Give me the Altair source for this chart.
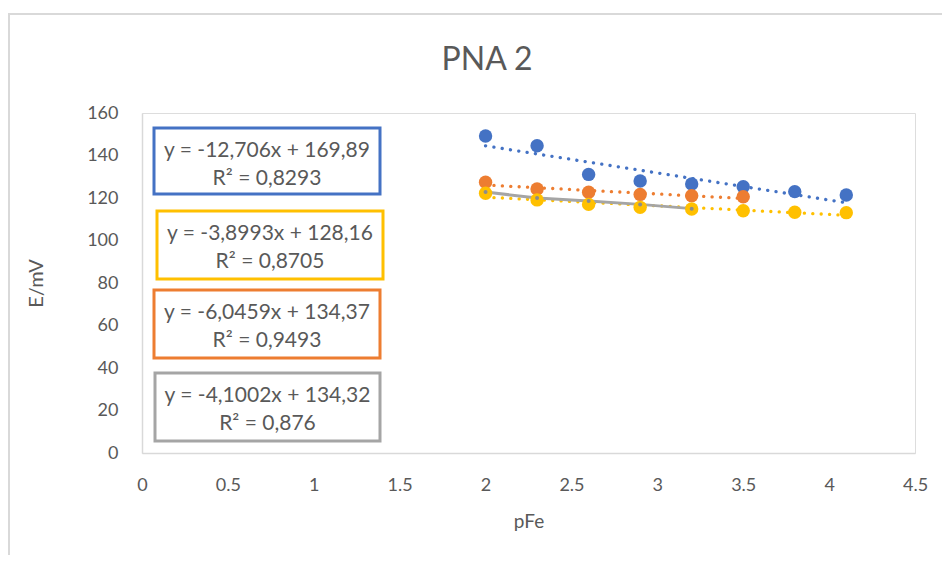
import altair as alt
import pandas as pd

# ---- data ----
x_blue = [2.0, 2.3, 2.6, 2.9, 3.2, 3.5, 3.8, 4.1]
y_blue = [149.2, 144.6, 131.1, 128.0, 126.6, 125.3, 123.0, 121.4]
x_orange = [2.0, 2.3, 2.6, 2.9, 3.2, 3.5]
y_orange = [127.4, 124.2, 122.7, 121.7, 121.1, 120.6]
x_gray = [2.0, 2.3, 2.6, 2.9, 3.2]
y_gray = [122.8, 120.0, 118.6, 117.0, 115.0]
x_yellow = [2.0, 2.3, 2.6, 2.9, 3.2, 3.5, 3.8, 4.1]
y_yellow = [122.2, 119.1, 117.0, 115.6, 114.8, 114.0, 113.3, 113.1]

series_names = ["Serie1", "Serie2", "Serie3", "Serie4"]
series_colors = ["#4472C4", "#ED7D31", "#A5A5A5", "#FFC000"]

box_line1 = ["y = -12,706x + 169,89", "y = -3,8993x + 128,16",
             "y = -6,0459x + 134,37", "y = -4,1002x + 134,32"]
box_line2 = ["R² = 0,8293", "R² = 0,8705", "R² = 0,9493", "R² = 0,876"]
box_colors = ["#4472C4", "#FFC000", "#ED7D31", "#A5A5A5"]

chart_title = "PNA 2"
x_ticks = [0, 0.5, 1, 1.5, 2, 2.5, 3, 3.5, 4, 4.5]
y_ticks = [0, 20, 40, 60, 80, 100, 120, 140, 160]

# ---- layout (pixels, relative to plot origin) ----
box_px = [(12, 238, 15, 81), (15, 241, 98, 166), (12, 238, 177, 245), (13, 238, 260, 328)]
title_px = (345, -43)

rows = []
for name, xs, ys in zip(series_names, [x_blue, x_orange, x_gray, x_yellow],
                        [y_blue, y_orange, y_gray, y_yellow]):
    for xv, yv in zip(xs, ys):
        rows.append({"series": name, "x": xv, "y": yv})
df = pd.DataFrame(rows)

TXT = "#595959"
FONT = "Lato"

xenc = alt.X("x:Q", scale=alt.Scale(domain=[0, 4.5], nice=False, zero=False),
             axis=alt.Axis(values=x_ticks, format=".1~f", title="pFe", grid=False, ticks=False,
                           tickSize=0, domainColor="#D9D9D9", domainWidth=1.5,
                           labelFont=FONT, labelFontSize=18, labelColor=TXT, labelPadding=23,
                           labelFlush=False, labelOverlap=False,
                           titleFont=FONT, titleFontSize=19, titleFontWeight="normal",
                           titleColor=TXT, titlePadding=18))
yenc = alt.Y("y:Q", scale=alt.Scale(domain=[0, 160], nice=False),
             axis=alt.Axis(values=y_ticks, title="E/mV", grid=False, ticks=False,
                           tickSize=0, domainColor="#D9D9D9", domainWidth=1.5,
                           labelFont=FONT, labelFontSize=18, labelColor=TXT, labelPadding=24,
                           labelFlush=False, labelOverlap=False,
                           titleFont=FONT, titleFontSize=20, titleFontWeight="normal",
                           titleColor=TXT, titlePadding=40))
cenc = alt.Color("series:N", scale=alt.Scale(domain=series_names, range=series_colors), legend=None)

one = pd.DataFrame({"k": [0]})

frame_left = alt.Chart(one).mark_rule(color="#D9D9D9", strokeWidth=2).encode(
    x=alt.value(-133), y=alt.value(-100), y2=alt.value(800))
frame_top = alt.Chart(one).mark_rule(color="#D9D9D9", strokeWidth=2).encode(
    x=alt.value(-134), x2=alt.value(1200), y=alt.value(-99))

title = alt.Chart(one).mark_text(text=chart_title, font=FONT, fontSize=32, color=TXT,
                                 align="center", baseline="alphabetic").encode(
    x=alt.value(title_px[0]), y=alt.value(title_px[1]))

base = alt.Chart(df)

trend = base.transform_filter(
    alt.FieldOneOfPredicate(field="series", oneOf=["Serie1", "Serie2", "Serie4"])
).transform_regression("x", "y", groupby=["series"]).mark_line(
    strokeDash=[0.1, 8.3], strokeCap="round", strokeWidth=3.3
).encode(x=xenc, y=yenc, color=cenc)

gray_line = base.transform_filter(alt.datum.series == "Serie3").mark_line(
    strokeWidth=3, color="#A5A5A5").encode(x=xenc, y=yenc)

def pts(name):
    return base.transform_filter(alt.datum.series == name).mark_circle(
        size=180, opacity=1).encode(x=xenc, y=yenc, color=cenc)

gray_pts = base.transform_filter(alt.datum.series == "Serie3").mark_circle(
    size=16, opacity=1, color="#8C8C8C").encode(x=xenc, y=yenc)

layers = [frame_left, frame_top, title]
for (bx, bx2, by, by2), l1, l2, col in zip(box_px, box_line1, box_line2, box_colors):
    layers.append(alt.Chart(one).mark_rect(fill="white", stroke=col, strokeWidth=3).encode(
        x=alt.value(bx), x2=alt.value(bx2), y=alt.value(by), y2=alt.value(by2)))
    cx = (bx + bx2) / 2
    layers.append(alt.Chart(one).mark_text(text=l1, font=FONT, fontSize=21, color=TXT,
                                           align="center", baseline="alphabetic").encode(
        x=alt.value(cx), y=alt.value(by + 29)))
    layers.append(alt.Chart(one).mark_text(text=l2, font=FONT, fontSize=21, color=TXT,
                                           align="center", baseline="alphabetic").encode(
        x=alt.value(cx), y=alt.value(by + 57)))

layers += [trend, gray_line, pts("Serie1"), pts("Serie2"), pts("Serie4"), gray_pts]

chart = alt.layer(*layers).properties(
    width=773, height=340,
    autosize=alt.AutoSizeParams(type="none"),
    padding={"left": 134, "top": 105, "right": 27, "bottom": 102},
).configure_view(stroke="transparent", strokeWidth=0, strokeOpacity=0).configure(background="white")

chart.save("out.html", embed_options={"renderer": "svg", "actions": False})
